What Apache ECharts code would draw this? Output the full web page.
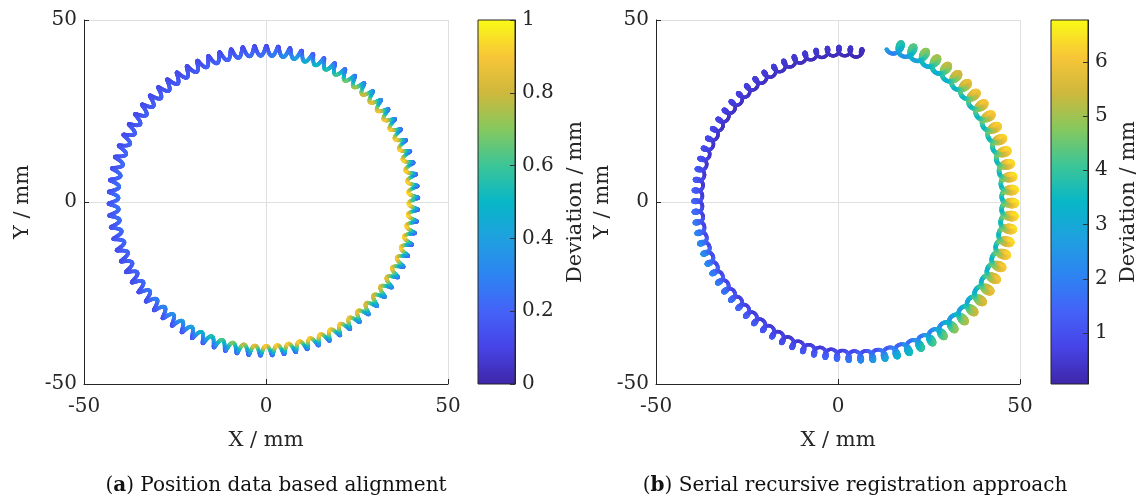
<!DOCTYPE html>
<html>
<head>
<meta charset="utf-8">
<script src="https://cdn.jsdelivr.net/npm/echarts@6/dist/echarts.min.js"></script>
<style>html,body{margin:0;background:#fff}#main{width:1147px;height:500px}</style>
</head>
<body>
<div id="main"></div>
<script>
// ---- (a) Position data based alignment: values ----
var angA  = [0, 30, 45, 60, 75, 90, 120, 150, 180, 210, 240, 255, 270, 300, 320, 340, 360]; // deg
var lowA  = [0.20, 0.20, 0.30, 0.20, 0.15, 0.12, 0.12, 0.12, 0.15, 0.12, 0.15, 0.20, 0.20, 0.25, 0.30, 0.20, 0.20];
var highA = [0.95, 0.92, 0.85, 0.62, 0.45, 0.25, 0.18, 0.20, 0.25, 0.20, 0.40, 0.65, 0.92, 0.92, 0.82, 0.92, 0.95];
var radA  = [41.2, 41.2, 41.2, 41.2, 41.2, 41.2, 41.2, 41.2, 41.2, 41.2, 41.2, 41.2, 41.2, 41.2, 41.2, 41.2, 41.2]; // mm
var ampA  = [1.35, 1.35, 1.35, 1.35, 1.35, 1.35, 1.35, 1.35, 1.35, 1.35, 1.35, 1.35, 1.35, 1.35, 1.35, 1.35, 1.35];
var centerA = [-0.7, 0.35];
var wavesA = 82;

// ---- (b) Serial recursive registration approach ----
var angB  = [80, 90, 120, 135, 150, 180, 200, 225, 240, 250, 270, 285, 300, 320, 330, 345, 360, 375, 400, 420, 431];
var lowB  = [0.1, 0.2, 0.3, 0.3, 0.3, 0.5, 0.8, 0.6, 0.5, 0.4, 0.5, 0.9, 1.5, 2.6, 3.0, 3.3, 3.3, 3.4, 3.3, 2.8, 1.8];
var highB = [0.3, 0.5, 0.6, 0.7, 0.8, 1.5, 2.5, 1.6, 1.2, 1.0, 1.6, 2.8, 4.0, 5.4, 5.9, 6.4, 6.5, 6.4, 6.0, 4.8, 3.6];
var radB  = [41.3, 41.5, 40.0, 39.3, 38.9, 38.5, 38.6, 38.9, 39.9, 40.7, 42.0, 43.5, 44.9, 46.6, 46.9, 47.0, 47.0, 47.0, 46.8, 46.3, 45.0];
var ampB  = [1.25, 1.25, 1.25, 1.25, 1.25, 1.25, 1.25, 1.25, 1.25, 1.25, 1.35, 1.5, 1.7, 1.9, 2.0, 2.0, 2.0, 2.0, 2.0, 1.9, 1.7];
var centerB = [0, 0];
var wavesB = 84;

// axis ticks / colorbar ticks
var axisTicks = [-50, 0, 50];
var cbTicksA = [0, 0.2, 0.4, 0.6, 0.8, 1];
var cbTicksB = [1, 2, 3, 4, 5, 6];
var cbRangeA = [0, 1];
var cbRangeB = [0.06, 6.77];

// parula
var parula = ['#3e26a8', '#4743e6', '#4462f8', '#2d84f2', '#1fa0df', '#07b7c7',
              '#3cc597', '#86c85e', '#cfb83c', '#f8c637', '#f9fb15'];

var FONT = 'DejaVu Serif';
var TXT = '#262626';

function interp(xs, ys, x) {
    if (x <= xs[0]) return ys[0];
    for (var i = 1; i < xs.length; i++) {
        if (x <= xs[i]) {
            var f = (x - xs[i - 1]) / (xs[i] - xs[i - 1]);
            return ys[i - 1] + (ys[i] - ys[i - 1]) * f;
        }
    }
    return ys[ys.length - 1];
}

// 沿着圆周生成波形路径 [x, y, deviation]
function buildRing(angs, rad, amp, low, high, center, waves, lean, outerHigh) {
    var a0 = angs[0], a1 = angs[angs.length - 1];
    var n = Math.round((a1 - a0) / 360 * waves * 56);
    var pts = [];
    for (var i = 0; i <= n; i++) {
        var t = a0 + (a1 - a0) * i / n;
        var th = t * Math.PI / 180;
        var ph = waves * (t - a0) * Math.PI / 180;
        var r = interp(angs, rad, t), a = interp(angs, amp, t);
        var lo = interp(angs, low, t), hi = interp(angs, high, t);
        var s = Math.sin(ph), c = Math.cos(ph);
        var rn = r + a * s, tn = lean * a * c;
        var x = center[0] + rn * Math.cos(th) - tn * Math.sin(th);
        var y = center[1] + rn * Math.sin(th) + tn * Math.cos(th);
        var w = outerHigh ? Math.sqrt((1 + s) / 2) : (1 - s) / 2;
        pts.push([x, y, lo + (hi - lo) * w]);
    }
    return pts;
}

var dataA = buildRing(angA, radA, ampA, lowA, highA, centerA, wavesA, 0.2, false);
var dataB = buildRing(angB, radB, ampB, lowB, highB, centerB, wavesB, 0.75, true);

var myChart = echarts.init(document.getElementById('main'));

// 颜色条渐变
var cbFill = new echarts.graphic.LinearGradient(0, 1, 0, 0,
    parula.map(function (c, i) { return {offset: i / (parula.length - 1), color: c}; }));

function mainX(idx) {
    return {
        gridIndex: idx, type: 'value', min: -50, max: 50, interval: 50,
        name: 'X / mm', nameLocation: 'middle', nameGap: 46,
        nameTextStyle: {fontFamily: FONT, fontSize: 21, color: TXT},
        axisLine: {onZero: false, lineStyle: {color: TXT, width: 1}},
        axisTick: {inside: true, length: 5, lineStyle: {color: TXT}},
        axisLabel: {fontFamily: FONT, fontSize: 20, color: TXT, margin: 13,
            customValues: axisTicks},
        splitLine: {show: true, lineStyle: {color: '#dfdfdf'}}
    };
}
function mainY(idx, gap) {
    return {
        gridIndex: idx, type: 'value', min: -50, max: 50, interval: 50,
        name: 'Y / mm', nameLocation: 'middle', nameGap: gap, nameRotate: 90,
        nameTextStyle: {fontFamily: FONT, fontSize: 21, color: TXT},
        axisLine: {onZero: false, lineStyle: {color: TXT, width: 1}},
        axisTick: {inside: true, length: 5, lineStyle: {color: TXT}},
        axisLabel: {fontFamily: FONT, fontSize: 20, color: TXT, margin: 7,
            customValues: axisTicks},
        splitLine: {show: true, lineStyle: {color: '#dfdfdf'}}
    };
}
function cbX(idx) {
    return {gridIndex: idx, type: 'value', min: 0, max: 1, show: false};
}
function cbY(idx, range, ticks, gap) {
    return {
        gridIndex: idx, type: 'value', position: 'right', min: range[0], max: range[1], z: 10,
        name: 'Deviation / mm', nameLocation: 'middle', nameGap: gap, nameRotate: 90,
        nameTextStyle: {fontFamily: FONT, fontSize: 21, color: TXT},
        axisLine: {show: true, onZero: false, lineStyle: {color: TXT, width: 1}},
        axisTick: {show: true, inside: true, length: 5, lineStyle: {color: '#333'},
            customValues: ticks},
        axisLabel: {fontFamily: FONT, fontSize: 20, color: TXT, margin: 7,
            customValues: ticks},
        splitLine: {show: false}
    };
}
function caption(x, letter, text) {
    return {
        type: 'text', z: 5, x: x, y: 486,
        style: {
            text: '{p|(}{b|' + letter + '}{p|) ' + text + '}',
            textAlign: 'center', textVerticalAlign: 'middle',
            rich: {
                p: {fontFamily: FONT, fontSize: 20, fill: '#111', color: '#111'},
                b: {fontFamily: FONT, fontSize: 20, fontWeight: 'bold', fill: '#111', color: '#111'}
            }
        }
    };
}

var option = {
    animation: false,
    grid: [
        {left: 84, top: 20, width: 364, height: 364},
        {left: 656, top: 20, width: 364, height: 364},
        {left: 478, top: 20, width: 37, height: 364, show: true, backgroundColor: cbFill, borderColor: TXT, borderWidth: 1},
        {left: 1051, top: 20, width: 37, height: 364, show: true, backgroundColor: cbFill, borderColor: TXT, borderWidth: 1}
    ],
    xAxis: [mainX(0), mainX(1), cbX(2), cbX(3)],
    yAxis: [mainY(0, 51), mainY(1, 42), cbY(2, cbRangeA, cbTicksA, 50), cbY(3, cbRangeB, cbTicksB, 30)],
    visualMap: [
        {show: false, seriesIndex: 0, dimension: 2, min: cbRangeA[0], max: cbRangeA[1], inRange: {color: parula}},
        {show: false, seriesIndex: 1, dimension: 2, min: cbRangeB[0], max: cbRangeB[1], inRange: {color: parula}}
    ],
    graphic: [
        caption(276, 'a', 'Position data based alignment'),
        caption(855, 'b', 'Serial recursive registration approach')],
    series: [
        {
            name: 'a', type: 'scatter', xAxisIndex: 0, yAxisIndex: 0,
            data: dataA, symbolSize: 3.8, progressive: 0, large: false,
            itemStyle: {opacity: 1}
        },
        {
            name: 'b', type: 'scatter', xAxisIndex: 1, yAxisIndex: 1,
            data: dataB, progressive: 0, large: false,
            symbolSize: function (v) { return 3.4 + v[2] * 0.35; },
            itemStyle: {opacity: 1}
        }
    ]
};
myChart.setOption(option);
</script>
</body>
</html>
